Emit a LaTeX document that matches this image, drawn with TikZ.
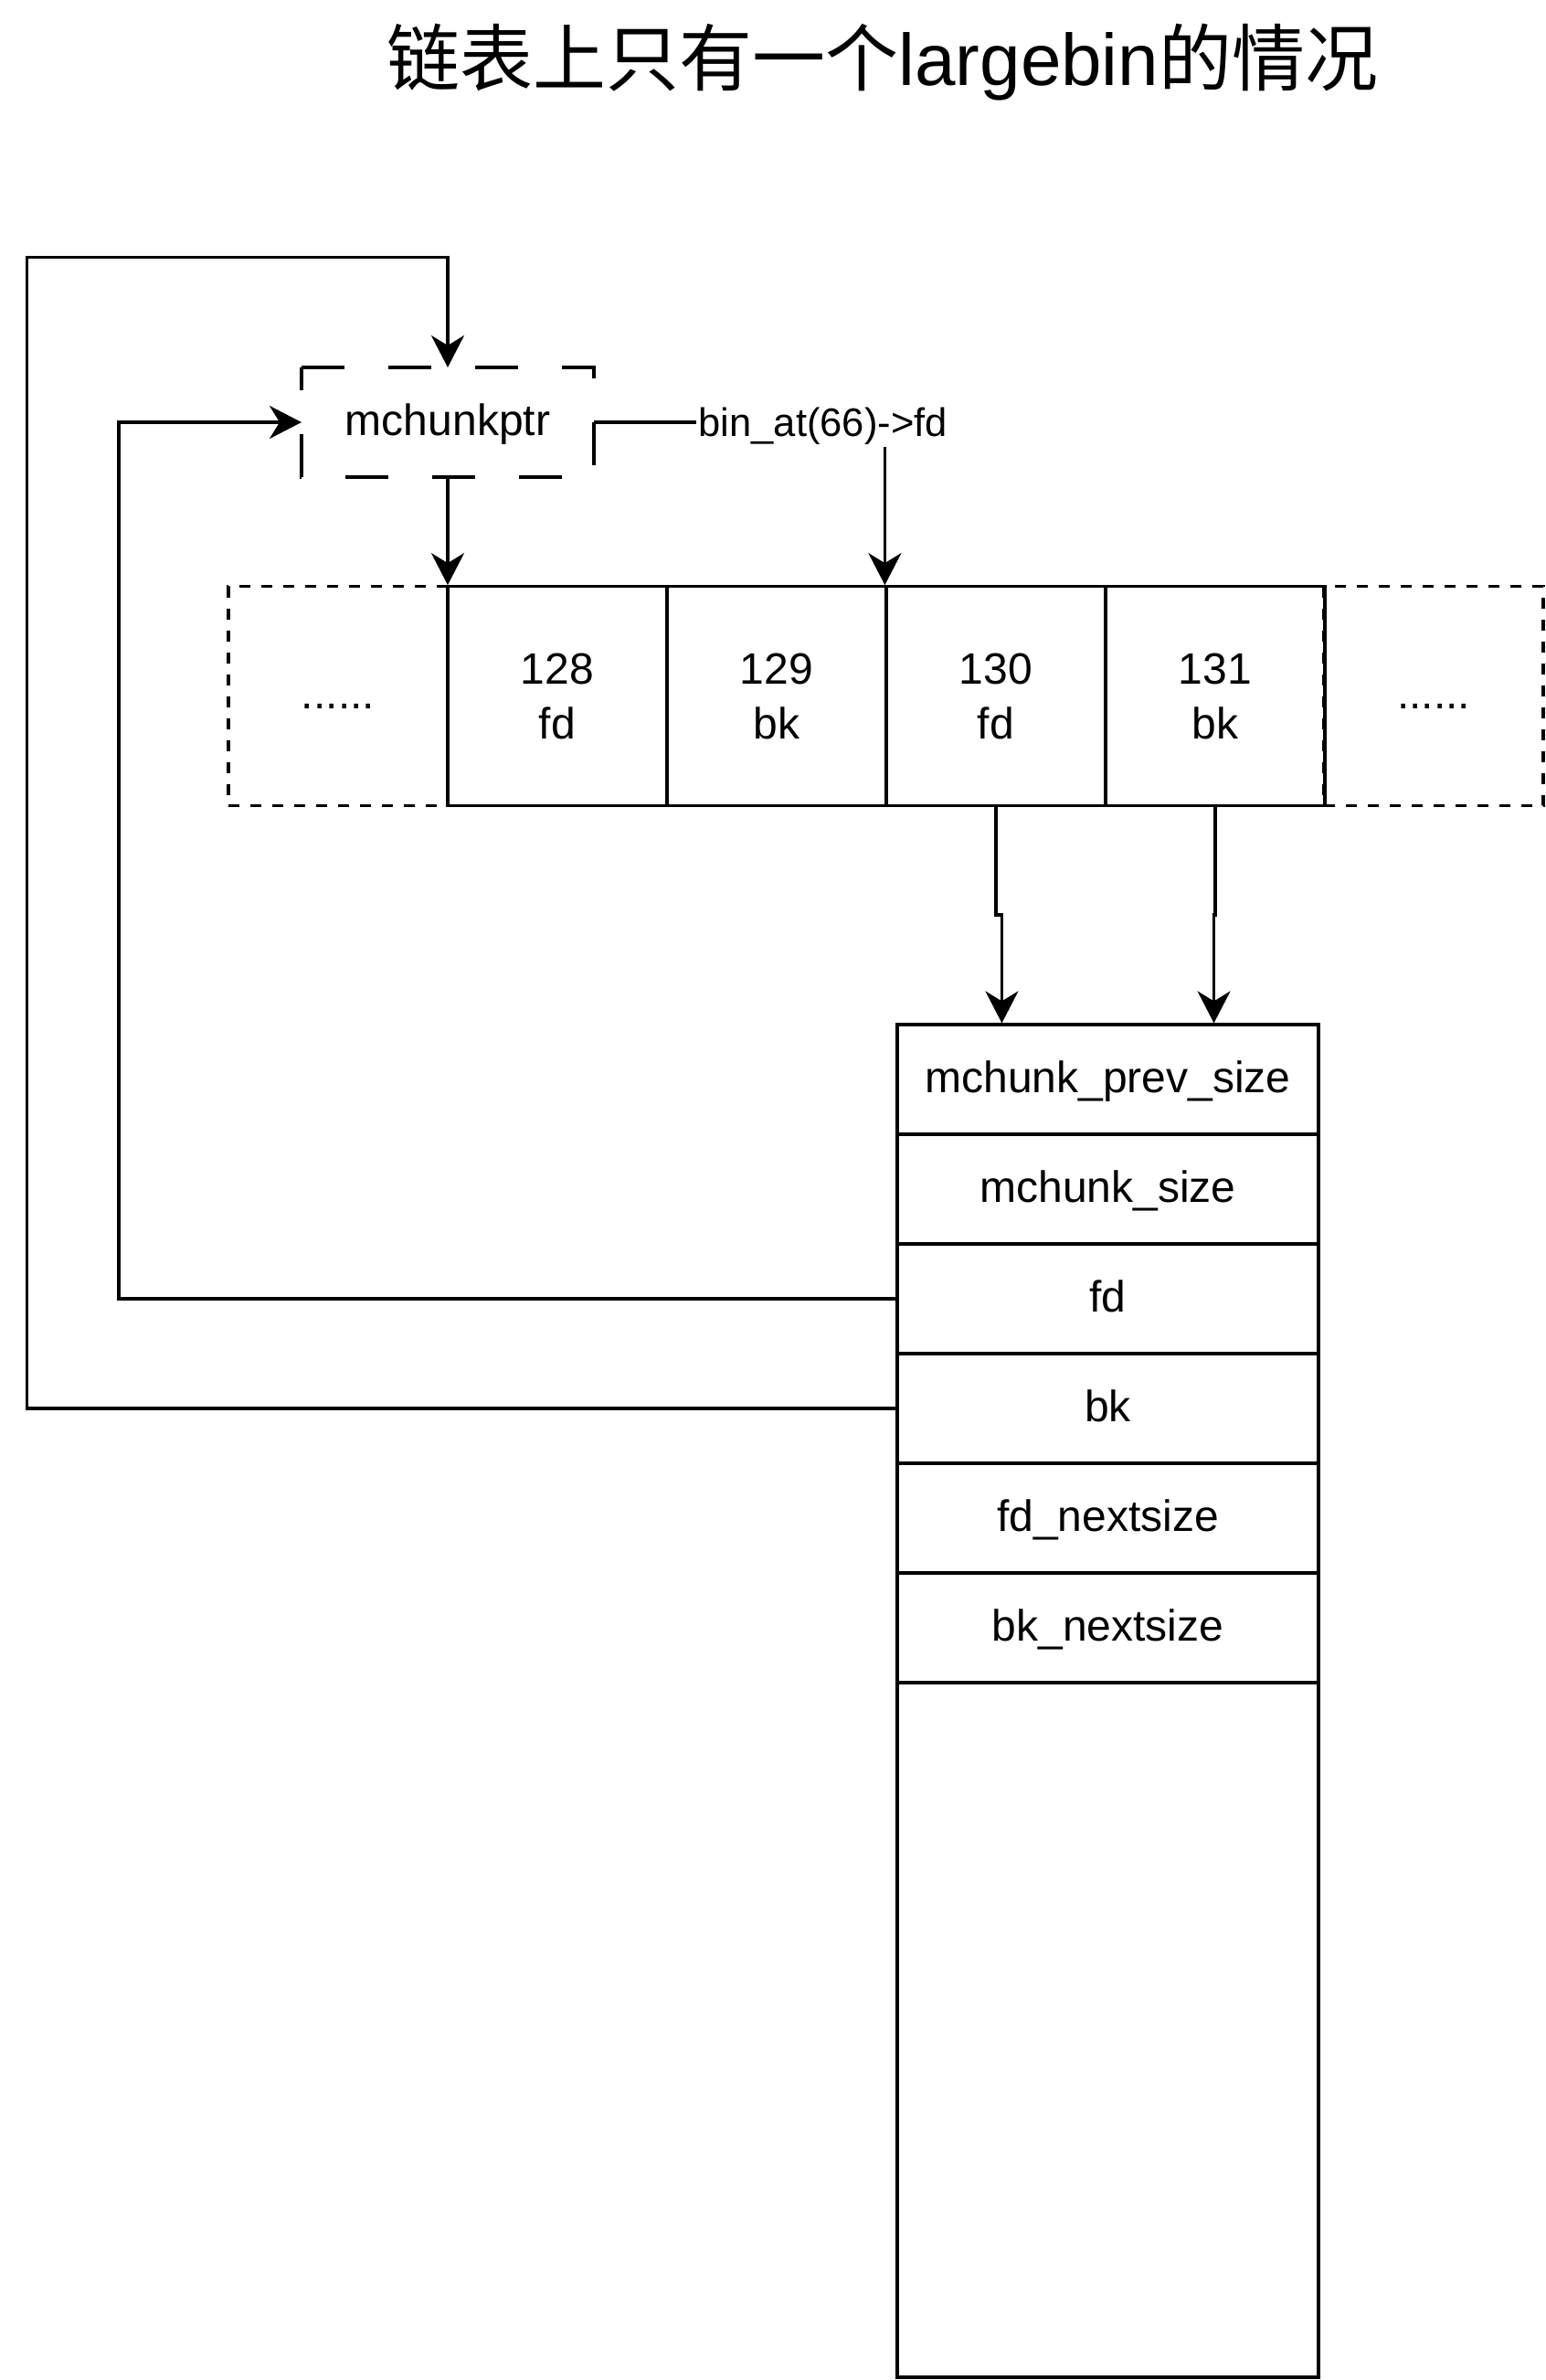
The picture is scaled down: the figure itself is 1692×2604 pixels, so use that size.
\documentclass[tikz,border=0pt]{standalone}
\usepackage{fontspec}
\setmainfont{Liberation Sans}
\newfontfamily\cjkfont{Noto Sans CJK SC}
\usetikzlibrary{arrows.meta,calc}
\begin{document}
\begin{tikzpicture}[x=0.5pt,y=-0.5pt,line width=1.6pt,
  arr/.style={-{Stealth[length=17.5pt,width=18pt,inset=5.5pt]}},
  txt/.style={font=\fontsize{24}{30}\selectfont},
  cellbox/.style={draw,txt,minimum width=120pt,minimum height=120pt,inner sep=0pt,align=center},
  dotbox/.style={draw,txt,dash pattern=on 6pt off 6pt,minimum width=120pt,minimum height=120pt,inner sep=0pt,text height=18pt,text depth=4pt},
  rowbox/.style={draw,txt,minimum width=230.5pt,minimum height=60pt,inner sep=0pt,text height=18pt,text depth=4pt},
  ptrbox/.style={txt,minimum width=160pt,minimum height=60pt,inner sep=0pt,outer sep=0pt,text height=18pt,text depth=4pt},
  lbl/.style={fill=white,inner xsep=1.5pt,inner ysep=0pt,text height=21pt,text depth=6pt,font=\fontsize{21.75}{26}\selectfont}]
\useasboundingbox (0,0) rectangle (1692,2604);

% title
\node[anchor=base,inner sep=0pt,font=\fontsize{40}{48}\selectfont] (title) at (966,93) {{\cjkfont 链表上只有一个}largebin{\cjkfont 的情况}};

% bin array
\node[dotbox] (dotL) at (370,761.7) {......};
\node[dotbox] (dotR) at (1569,761.7) {......};
\node[cellbox] (c128) at (610,761.7) {128\\fd};
\node[cellbox] (c129) at (850,761.7) {129\\bk};
\node[cellbox] (c130) at (1090,761.7) {130\\fd};
\node[cellbox] (c131) at (1330,761.7) {131\\bk};

% mchunkptr
\node[ptrbox] (ptr) at (490,462) {mchunkptr};
\draw[dash pattern=on 23.5pt off 24pt] (ptr.north west) -- (ptr.north east) -- (ptr.south east) -- (ptr.south west) -- cycle;

% chunk
\node[rowbox] (r1) at (1212.5,1181) {mchunk\_prev\_size};
\node[rowbox] (r2) at (1212.5,1301) {mchunk\_size};
\node[rowbox] (r3) at (1212.5,1421) {fd};
\node[rowbox] (r4) at (1212.5,1541) {bk};
\node[rowbox] (r5) at (1212.5,1661) {fd\_nextsize};
\node[rowbox] (r6) at (1212.5,1781) {bk\_nextsize};
\node[draw,minimum width=230.5pt,minimum height=380pt,inner sep=0pt] (r7) at (1212.5,2221) {};

% connectors
\coordinate (a1) at (130,462);
\coordinate (a2) at (29.5,281.7);
\coordinate (jy) at (0,1001);
\coordinate (t1) at ($(r1.north west)!0.25!(r1.north east)$);
\coordinate (t2) at ($(r1.north west)!0.75!(r1.north east)$);

\draw[arr] (r3.west) -| (a1) |- (ptr.west);
\draw[arr] (r4.west) -| (a2) -| (ptr.north);
\draw[arr] (ptr.south) -- (ptr.south |- c128.north);
\draw[arr] (ptr.east) -| (c130.north west);
\node[lbl] (lab) at (900.8,462) {bin\_at(66)->fd};
\draw[arr] (c130.south) -- (c130.south |- jy) -| (t1);
\draw[arr] (c131.south) -- (c131.south |- jy) -| (t2);
\end{tikzpicture}
\end{document}
